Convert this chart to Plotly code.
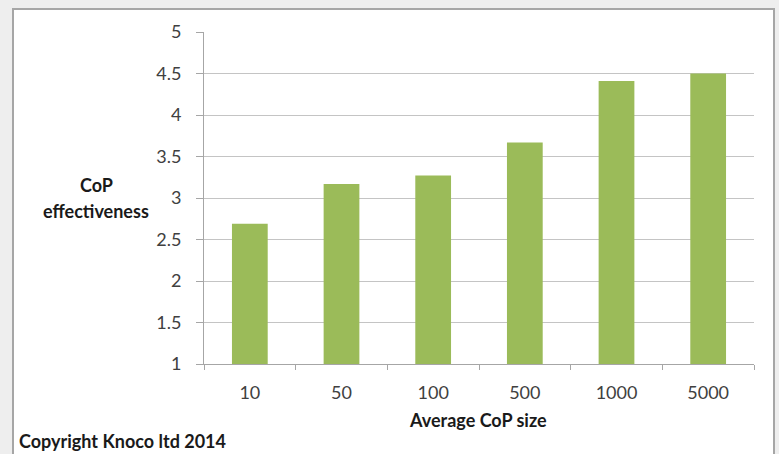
import plotly.graph_objects as go

categories = ["10", "50", "100", "500", "1000", "5000"]
values = [2.69, 3.17, 3.27, 3.67, 4.41, 4.5]
y_ticks = [1, 1.5, 2, 2.5, 3, 3.5, 4, 4.5, 5]

L, R, T, B = 204, 25, 32, 90
W, H = 779, 454
pw, ph = W - L - R, H - T - B

def fx(px):
    return (px - L) / pw

def fy(py):
    return (H - B - py) / ph

fig = go.Figure(go.Bar(x=categories, y=values, marker_color="#9bbb59",
                       marker_line_width=0, width=0.39))

font = "Lato, 'Open Sans', sans-serif"
title_font = dict(size=18, color="#1a1a1a")
fig.update_layout(
    width=W, height=H,
    margin=dict(l=L, r=R, t=T, b=B),
    paper_bgcolor="#eeeeee",
    plot_bgcolor="white",
    showlegend=False,
    font=dict(family=font, size=18, color="#404040"),
    shapes=[dict(type="rect", xref="paper", yref="paper", layer="below",
                 x0=fx(13), x1=fx(774), y0=fy(470), y1=fy(9),
                 fillcolor="white", line=dict(color="#a6a6a6", width=2))],
    annotations=[
        dict(text="<b>CoP</b>", xref="paper", yref="paper",
             x=fx(96), y=fy(185), showarrow=False, xanchor="center", yanchor="middle",
             font=title_font),
        dict(text="<b>effectiveness</b>", xref="paper", yref="paper",
             x=fx(96), y=fy(211), showarrow=False, xanchor="center", yanchor="middle",
             font=title_font),
        dict(text="<b>Average CoP size</b>", xref="paper", yref="paper",
             x=fx(478), y=fy(420), showarrow=False, xanchor="center", yanchor="middle",
             font=title_font),
        dict(text="<b>Copyright Knoco ltd 2014</b>", xref="paper", yref="paper",
             x=fx(17), y=fy(441), showarrow=False, xanchor="left", yanchor="middle",
             font=title_font),
    ],
)
fig.update_xaxes(type="category", showline=True, linecolor="#a6a6a6", linewidth=1,
                 ticks="outside", tickson="boundaries", ticklen=5, tickcolor="#a6a6a6",
                 showgrid=False, ticklabelstandoff=12)
fig.update_yaxes(range=[1, 5], tickvals=y_ticks, showline=True, linecolor="#a6a6a6",
                 linewidth=1, ticks="outside", ticklen=7, tickcolor="#a6a6a6",
                 gridcolor="#c4c4c4", gridwidth=1, zeroline=False, ticklabelstandoff=11)

fig.write_html("out.html")
